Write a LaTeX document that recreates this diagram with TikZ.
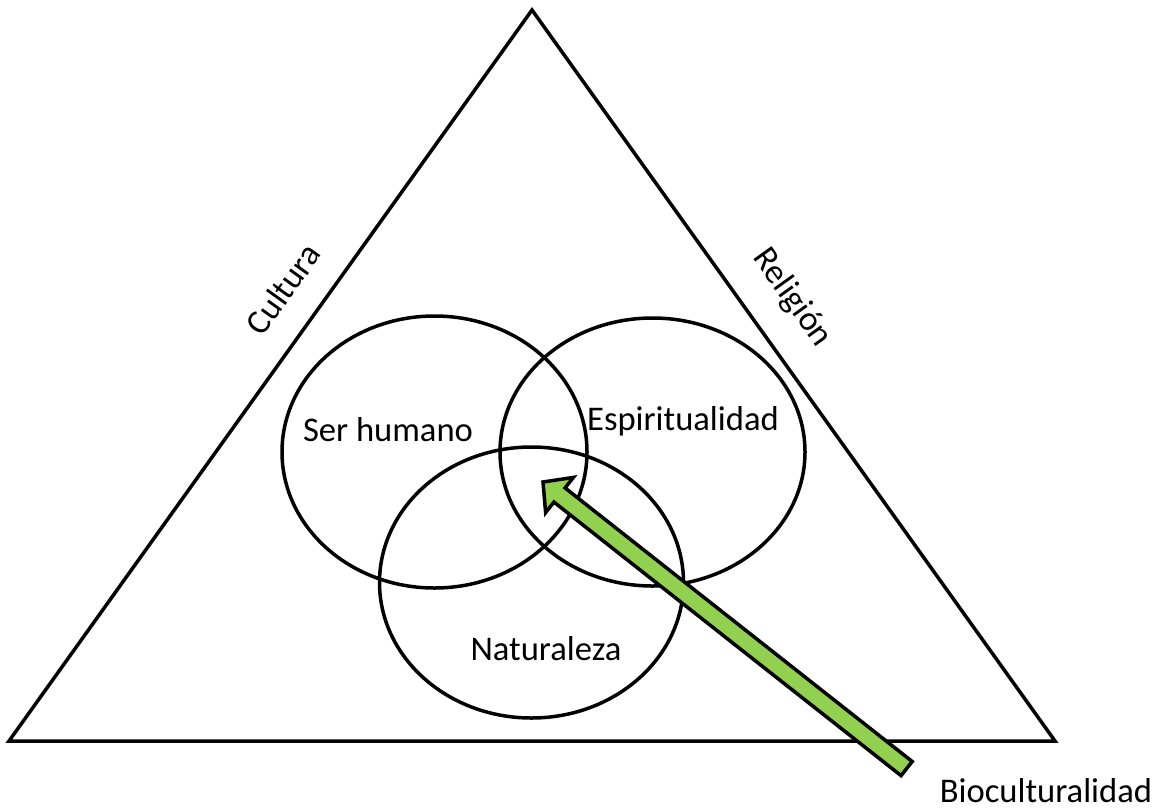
\documentclass[tikz,border=0pt]{standalone}
\usepackage{fontspec}
\setmainfont{Carlito}
\definecolor{arrowgreen}{RGB}{146,208,80}
\begin{document}
\begin{tikzpicture}[x=1pt,y=-1pt,
  edge/.style={line width=3.5pt,line join=miter},
  venn/.style={draw,line width=3.5pt},
  lbl/.style={inner sep=0pt,font=\fontsize{34.6}{40}\selectfont},
  blockarrow/.style={draw,fill=arrowgreen,line width=3.5pt,line join=miter}]
\useasboundingbox (0,0) rectangle (1158,809);
% triangle
\coordinate (apex) at (532,10);
\coordinate (bl) at (9,741);
\coordinate (br) at (1055,741);
\draw[edge] (apex) -- (bl) -- (br) -- cycle;
% circles
\coordinate (c1) at (434.5,452);
\coordinate (c2) at (652.5,452);
\coordinate (c3) at (531.5,582.5);
\draw[venn] (c1) ellipse [x radius=152.5, y radius=136];
\draw[venn] (c2) ellipse [x radius=152.5, y radius=134];
\draw[venn] (c3) ellipse [x radius=152, y radius=135.5];
% labels
\node[lbl,anchor=base] (ser) at (388,441.7) {Ser humano};
\node[lbl,anchor=base] (esp) at (683,430) {Espiritualidad};
\node[lbl,anchor=base] (nat) at (546,660) {Naturaleza};
\node[lbl,anchor=base] (bio) at (1046,802) {Bioculturalidad};
\node[lbl,rotate=54.4] (cul) at (283,289) {Cultura};
\node[lbl,rotate=-54.4] (rel) at (792,298) {Religión};
% arrow
\coordinate (tip) at (543,482);
\coordinate (tail) at (906.5,768.5);
\begin{scope}[shift={(tip)},rotate=-38.24]
\draw[blockarrow] (0,0) -- (21,22.4) -- (21,9) -- (463,9) -- (463,-9) -- (21,-9) -- (21,-22.4) -- cycle;
\end{scope}
\end{tikzpicture}
\end{document}
